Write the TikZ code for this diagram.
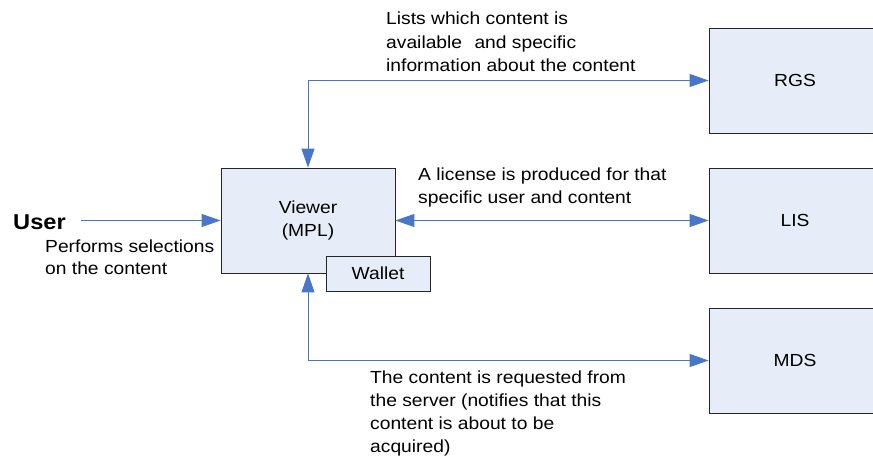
\documentclass[tikz,border=0pt]{standalone}
\usepackage{fontspec}
\setmainfont{Liberation Sans}
\newfontfamily\lab[FakeStretch=1.1]{Liberation Sans}
\usetikzlibrary{arrows.meta}
\definecolor{boxfill}{RGB}{230,236,248}
\definecolor{linkblue}{RGB}{72,118,200}
\begin{document}
\begin{tikzpicture}[x=1pt,y=-1pt,
  txt/.style={font=\lab\fontsize{17.5}{23.3}\selectfont, inner sep=0pt},
  lbl/.style={txt, anchor=base west},
  srv/.style={txt, draw=black!85, line width=0.8pt, fill=boxfill, align=center},
  link/.style={draw=linkblue, line width=0.9pt,
    {Triangle[length=19pt,width=13pt]}-{Triangle[length=19pt,width=13pt]}},
  onelink/.style={draw=linkblue, line width=0.9pt, -{Triangle[length=19pt,width=13pt]}}]
\useasboundingbox (0,0) rectangle (873,457);
\clip (0,0) rectangle (873,457);
% boxes
\node[srv, minimum width=174pt, minimum height=105pt] (viewer) at (308,220.5) {Viewer\\(MPL)};
\node[srv, minimum width=104pt, minimum height=35pt] (wallet) at (378,273.5) {Wallet};
\node[srv, minimum width=172pt, minimum height=105pt] (rgs) at (795,80.5) {RGS};
\node[srv, minimum width=172pt, minimum height=105pt] (lis) at (795,220.5) {LIS};
\node[srv, minimum width=172pt, minimum height=105pt] (mds) at (795,360.5) {MDS};
% user
\node[inner sep=0pt, anchor=base west, font=\lab\bfseries\fontsize{21.5}{26}\selectfont] (user) at (13,230) {User};
\coordinate (ustart) at (81,220.5);
% labels
\node[lbl] (la1) at (386,25) {Lists which content is};
\node[lbl] (la2) at (386,48.5) {available\hspace{0.4em} and specific};
\node[lbl] (la3) at (386,72) {information about the content};
\node[lbl] (lb1) at (418,181) {A license is produced for that};
\node[lbl] (lb2) at (418,204) {specific user and content};
\node[lbl] (lc1) at (45,252) {Performs selections};
\node[lbl] (lc2) at (45,275) {on the content};
\node[lbl] (ld1) at (370,383) {The content is requested from};
\node[lbl] (ld2) at (370,406) {the server (notifies that this};
\node[lbl] (ld3) at (370,429) {content is about to be};
\node[lbl] (ld4) at (370,452) {acquired)};
% connectors
\draw[onelink] (ustart) -- (viewer.west);
\draw[link] (viewer.north) |- (rgs.west);
\draw[link] (viewer.east) -- (lis.west);
\draw[link] (viewer.south) |- (mds.west);
\end{tikzpicture}
\end{document}
